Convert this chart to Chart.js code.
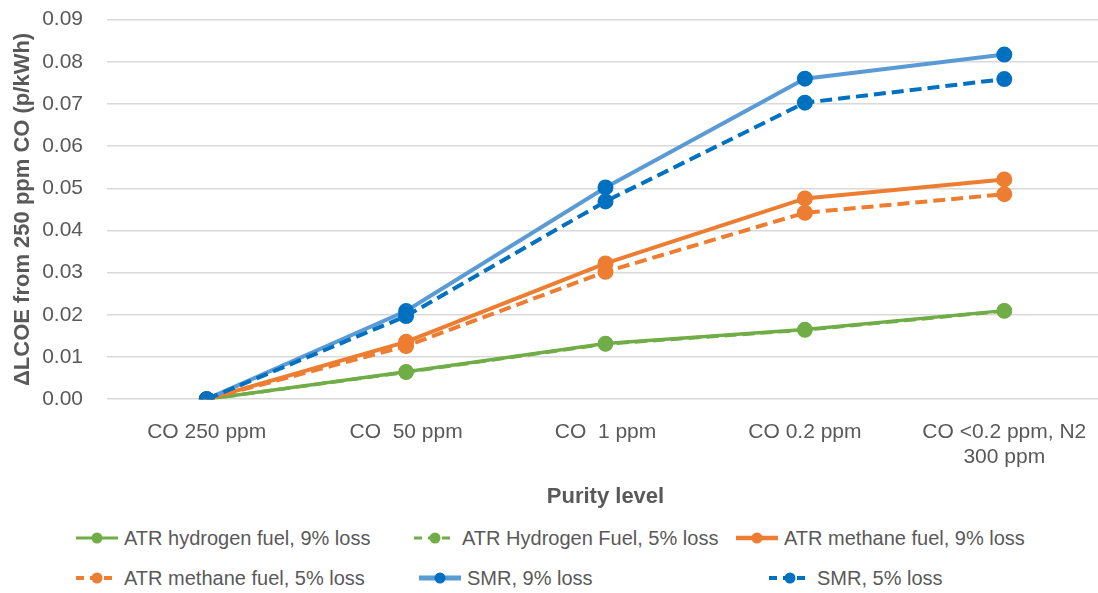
<!DOCTYPE html>
<html>
<head>
<meta charset="utf-8">
<script src="https://cdn.jsdelivr.net/npm/chart.js@4"></script>
<style>
  body { margin: 0; background: #fff; overflow: hidden; }
  #wrap { position: relative; width: 1098px; height: 593px; overflow: hidden; }
  #chart { position: absolute; left: 0; top: -17px; }
  .leg { position: absolute; display: flex; align-items: center; font-family: "Liberation Sans", sans-serif; font-size: 20px; color: #595959; white-space: pre; }
  .leg svg { margin-right: 5px; }
</style>
</head>
<body>
<div id="wrap">
  <canvas id="chart" width="1114" height="531"></canvas>
  <div id="legend"></div>
</div>
<script>
const categories = ['CO 250 ppm', 'CO  50 ppm', 'CO  1 ppm', 'CO 0.2 ppm', ['CO <0.2 ppm, N2', '300 ppm']];

const atrH2Loss9 = [0, 0.0065, 0.0132, 0.0165, 0.0210];
const atrH2Loss5 = [0, 0.0064, 0.0131, 0.0164, 0.0209];
const atrCH4Loss9 = [0, 0.0136, 0.0322, 0.0476, 0.0521];
const atrCH4Loss5 = [0, 0.0126, 0.0302, 0.0442, 0.0486];
const smrLoss9 = [0, 0.0209, 0.0502, 0.0760, 0.0817];
const smrLoss5 = [0, 0.0197, 0.0469, 0.0703, 0.0759];

const seriesNames = ['ATR hydrogen fuel, 9% loss', 'ATR Hydrogen Fuel, 5% loss', 'ATR methane fuel, 9% loss',
  'ATR methane fuel, 5% loss', 'SMR, 9% loss', 'SMR, 5% loss'];

const green = '#70AD47', orange = '#ED7D31', lightBlue = '#5B9BD5', blue = '#0070C0';
const dash = [12, 6];

function ds(label, data, color, dashed, width) {
    const dot = color === lightBlue ? blue : color;
    return {
        label, data,
        borderColor: color, backgroundColor: dot,
        borderWidth: width, borderDash: dashed ? dash : [],
        pointRadius: 6, pointHoverRadius: 6,
        pointBackgroundColor: dot, pointBorderColor: dot,
        tension: 0, fill: false
    };
}

const datasets = [
    ds(seriesNames[5], smrLoss5, blue, true, 4),
    ds(seriesNames[4], smrLoss9, lightBlue, false, 4),
    ds(seriesNames[3], atrCH4Loss5, orange, true, 4),
    ds(seriesNames[2], atrCH4Loss9, orange, false, 4),
    ds(seriesNames[1], atrH2Loss5, green, true, 3.5),
    ds(seriesNames[0], atrH2Loss9, green, false, 3.5)
];

const fam = '"Liberation Sans", sans-serif';

new Chart(document.getElementById('chart'), {
    type: 'line',
    data: { labels: categories, datasets: datasets },
    options: {
        responsive: false,
        animation: false,
        layout: { padding: { left: 6, right: -6, top: 0, bottom: 0 } },
        plugins: { legend: { display: false }, tooltip: { enabled: false } },
        scales: {
            x: {
                offset: true,
                grid: { display: false },
                border: { display: false },
                ticks: { color: '#595959', font: { family: fam, size: 21 }, padding: 12, maxRotation: 0, autoSkip: false },
                title: { display: true, text: 'Purity level', color: '#595959',
                    font: { family: fam, size: 22, weight: 'bold' }, padding: { top: 2 } }
            },
            y: {
                min: 0, max: 0.09,
                afterFit: scale => { scale.width = 101; },
                grid: { color: '#d9d9d9', lineWidth: 1.5, drawTicks: false },
                border: { display: false },
                ticks: { stepSize: 0.01, color: '#595959', font: { family: fam, size: 21 }, padding: 24,
                    callback: v => v.toFixed(2) },
                title: { display: true, text: 'ΔLCOE from 250 ppm CO (p/kWh)', color: '#595959',
                    font: { family: fam, size: 22, weight: 'bold' }, padding: { top: 4, bottom: 4 } }
            }
        }
    }
});

// legend: Excel style line + marker samples
const legendItems = [
    { name: seriesNames[0], color: green, dashed: false, w: 3, left: 75, top: 525 },
    { name: seriesNames[1], color: green, dashed: true, w: 3, left: 413, top: 525 },
    { name: seriesNames[2], color: orange, dashed: false, w: 4.5, left: 735, top: 525 },
    { name: seriesNames[3], color: orange, dashed: true, w: 4, left: 75, top: 565 },
    { name: seriesNames[4], color: lightBlue, dashed: false, w: 5, left: 418, top: 565 },
    { name: seriesNames[5], color: blue, dashed: true, w: 4, left: 768, top: 565 }
];
const legendEl = document.getElementById('legend');
legendItems.forEach(it => {
    const d = document.createElement('div');
    d.className = 'leg';
    d.style.left = it.left + 'px';
    d.style.top = it.top + 'px';
    const dotColor = it.color === lightBlue ? blue : it.color;
    const dashAttr = it.dashed ? 'stroke-dasharray="8,6"' : '';
    d.innerHTML = '<svg width="44" height="26"><line x1="1" y1="13" x2="43" y2="13" stroke="' + it.color +
        '" stroke-width="' + it.w + '" ' + dashAttr + '/><circle cx="22" cy="13" r="5.5" fill="' + dotColor +
        '"/></svg><span>' + it.name + '</span>';
    legendEl.appendChild(d);
});
</script>
</body>
</html>
